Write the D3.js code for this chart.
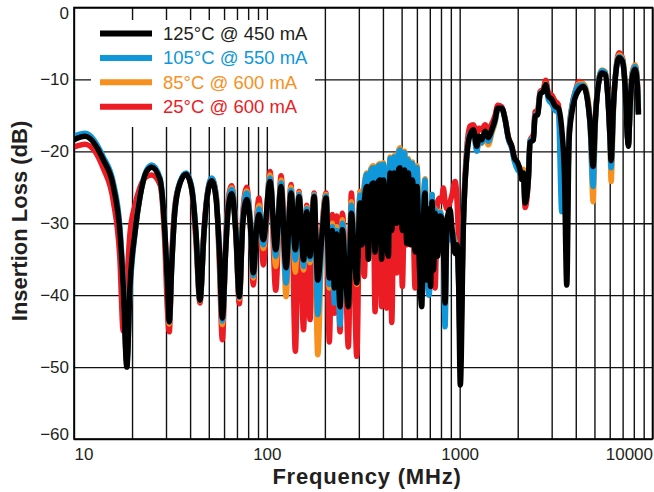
<!DOCTYPE html>
<html>
<head>
<meta charset="utf-8">
<script src="https://cdn.jsdelivr.net/npm/d3@7"></script>
<style>
  body { margin: 0; background: #fff; }
  text { font-family: "Liberation Sans", Arial, Helvetica, sans-serif; }
</style>
</head>
<body>
<script>
// frequency points (MHz), shared by the four curves
const freqs = [10, 11.4, 14.2, 16.0, 17.3, 18.0, 18.8, 19.5, 20.7, 22.0, 23.8, 25.3, 27.9, 29.6, 30.5, 31.2, 32.1, 33.4, 35.5, 38.1,
  40.8, 42.9, 45.0, 47.2, 49.1, 51.8, 54.6, 56.7, 58.8, 61.2, 63.2, 65.8, 69.1, 72.0, 74.9, 78.6, 82.2, 85.1, 88.7, 91.1, 95.9,
  103.9, 111.2, 118.5, 125.8, 133.5, 140.6, 146.9, 155.0, 161.0, 167.5, 175.8, 183.7, 192.7, 202.8, 210.9, 218.6, 223.9, 230.4,
  239.7, 246.4, 255.4, 264.7, 274.4, 283.4, 292.7, 304.4,
  311.7, 320.4, 329.7, 336.1, 345.0, 356.8, 364.1, 375.2, 386.6, 393.6, 403.1, 418.8, 426.9, 435.5, 444.5, 456.8, 471.8, 482.0,
  490.8, 504.5, 517.9, 531.7, 542.0, 556.4, 569.9, 587.1, 601.3, 615.8, 636.0, 648.2, 661.5, 675.1, 693.9, 706.4, 719.2, 732.2,
  745.4, 768.0, 791.3, 805.6, 823.1, 840.0, 860.3, 891.7, 913.3, 946.3, 969.4, 987.0, 1008,
  1045, 1089, 1132, 1178, 1227, 1261, 1302, 1354, 1409, 1467, 1526, 1576, 1653, 1720, 1789, 1863, 1922, 2001, 2057, 2099, 2140,
  2184, 2228, 2271, 2318, 2411, 2461, 2541, 2612, 2717, 2796, 2884, 3004, 3125, 3250, 3385, 3492, 3593, 3693, 3814, 3967, 4164,
  4383, 4564, 4748, 4921, 5040, 5204, 5459, 5678, 5865, 6028, 6100, 6270, 6453, 6712, 6982, 7210, 7411, 7499, 7653, 7866, 8124,
  8350, 8451];

// insertion loss (dB), one list per test condition
const loss125 = [-18.4, -17.9, -21.2, -24.9, -31.3, -38.8, -50.0, -38.8, -31.3, -26.3, -22.8, -22.2, -23.9, -31.3, -38.3, -43.7, -36.0, -28.1, -24.4, -23.2,
  -25.3, -31.4, -40.7, -31.3, -26.3, -24.1, -26.7, -33.7, -43.2, -33.7, -27.7, -25.9, -31.4, -40.2, -30.4, -26.7, -30.4, -36.9, -30.4, -28.8, -32.3,
  -24.2, -33.7, -24.9, -36.2, -25.8, -33.7, -26.3, -35.1, -28.4, -34.6, -26.3, -37.9, -32.0, -26.5, -37.6, -31.0, -39.0, -31.5,
  -41.6, -30.9, -37.0, -41.6, -28.6, -34.0, -38.3, -27.2,
  -33.0, -27.0, -24.9, -35.0, -25.0, -24.4, -34.0, -24.5, -24.0, -35.0, -24.0, -33.0, -34.6, -23.0, -31.0, -23.0, -30.0, -22.5,
  -22.3, -31.0, -22.6, -32.8, -23.0, -33.0, -24.0, -34.0, -24.9, -34.6, -41.6, -30.0, -25.8, -37.9, -28.0, -38.8, -27.0, -36.5,
  -28.6, -34.6, -29.0, -29.3, -33.0, -41.1, -29.5, -28.1, -30.9, -34.2, -33.0, -38.0, -52.5,
  -30.4, -20.7, -17.7, -17.0, -19.3, -17.9, -18.4, -17.2, -18.1, -17.0, -15.6, -14.0, -14.0, -15.6, -18.1, -19.3, -20.9, -21.6, -22.6, -23.9, -23.0,
  -27.2, -26.3, -23.9, -18.8, -18.4, -15.1, -14.9, -12.1, -11.6, -10.7, -12.3, -12.8, -13.7, -14.0, -17.0, -23.0, -38.6, -18.4, -14.7, -12.6, -11.4,
  -11.0, -12.3, -16.1, -22.1, -16.1, -11.4, -9.1, -9.3, -12.3, -18.4, -21.3, -13.7, -9.1, -7.0, -7.5, -11.0, -17.9, -19.3, -13.7, -9.6, -8.6,
  -11.0, -14.9];

const loss105 = [-17.9, -17.5, -20.8, -24.4, -30.5, -38.0, -49.5, -39.5, -31.5, -26.2, -22.6, -21.9, -23.7, -31.0, -38.0, -43.7, -36.0, -28.0, -24.2, -23.0,
  -25.0, -31.2, -40.7, -31.5, -26.1, -23.7, -26.3, -33.5, -43.6, -33.6, -27.3, -25.3, -31.0, -40.3, -30.0, -25.8, -30.0, -37.3, -30.0, -28.0, -33.0,
  -23.7, -34.6, -24.4, -38.3, -25.4, -35.1, -26.0, -36.0, -28.0, -35.0, -26.1, -42.7, -32.5, -26.2, -38.5, -30.5, -41.1, -31.0,
  -44.1, -30.0, -37.5, -41.0, -27.5, -34.0, -38.0, -26.1,
  -30.0, -25.0, -23.2, -31.0, -22.8, -22.3, -29.5, -22.2, -21.9, -32.0, -21.8, -30.0, -33.0, -21.0, -27.0, -20.8, -26.0, -20.2,
  -19.8, -28.0, -20.2, -31.0, -21.2, -29.0, -21.7, -30.0, -22.3, -33.0, -38.0, -28.0, -24.0, -37.0, -40.0, -36.0, -26.0, -35.0,
  -28.1, -33.0, -28.5, -29.0, -32.0, -44.4, -30.0, -32.3, -31.0, -33.0, -33.5, -38.0, -47.0,
  -30.0, -20.5, -17.5, -17.2, -20.0, -18.2, -18.8, -17.6, -18.6, -17.2, -15.8, -14.1, -14.0, -15.6, -18.3, -19.6, -21.4, -22.6, -23.0, -23.8, -23.0,
  -27.0, -26.0, -23.5, -18.5, -18.2, -15.0, -14.7, -12.0, -11.6, -10.9, -12.8, -13.4, -14.3, -14.6, -28.4, -27.0, -30.0, -17.8, -14.0, -11.8, -10.8,
  -10.8, -12.2, -16.5, -24.9, -16.5, -11.2, -8.8, -9.0, -12.4, -18.8, -22.3, -14.0, -9.0, -6.8, -7.3, -11.0, -17.8, -19.0, -13.5, -9.2, -8.2,
  -10.8, -14.8];

const loss85 = [-18.1, -17.7, -21.0, -24.7, -31.0, -38.5, -49.0, -39.0, -31.3, -26.3, -22.8, -22.1, -23.9, -31.3, -38.5, -44.0, -36.0, -28.1, -24.3, -23.1,
  -25.1, -31.4, -40.8, -31.5, -26.2, -23.8, -26.4, -33.8, -44.1, -33.5, -27.2, -25.1, -31.0, -40.5, -29.8, -25.5, -30.0, -37.6, -29.5, -27.5, -33.5,
  -23.3, -36.0, -24.0, -40.2, -25.0, -36.8, -25.8, -36.5, -27.8, -35.5, -26.0, -48.3, -32.5, -26.0, -39.0, -30.0, -40.0, -30.5,
  -43.0, -29.5, -37.5, -41.0, -27.0, -34.0, -38.5, -25.6,
  -30.0, -24.6, -23.0, -31.0, -22.5, -22.0, -29.0, -22.0, -21.7, -32.0, -21.6, -30.0, -33.0, -20.8, -27.0, -20.6, -26.0, -19.9,
  -19.5, -28.0, -20.0, -31.0, -21.0, -29.0, -21.5, -30.0, -22.0, -33.0, -38.0, -28.0, -23.8, -37.0, -36.0, -36.0, -26.0, -35.0,
  -28.0, -33.0, -28.3, -29.0, -32.0, -42.0, -30.0, -30.0, -31.0, -32.5, -33.5, -38.0, -47.0,
  -30.0, -20.5, -17.5, -17.2, -19.8, -18.0, -18.9, -17.8, -19.1, -17.5, -16.0, -14.2, -14.1, -15.5, -18.2, -19.5, -21.2, -22.2, -22.8, -23.5, -22.5,
  -26.5, -25.8, -23.5, -18.6, -18.0, -15.0, -14.6, -12.0, -11.5, -10.6, -12.4, -13.0, -13.9, -14.2, -20.0, -24.0, -30.0, -18.0, -14.2, -12.0, -10.6,
  -10.6, -11.8, -15.8, -27.0, -16.8, -11.2, -8.7, -8.9, -12.2, -18.8, -24.2, -14.5, -9.0, -6.6, -7.1, -10.8, -17.6, -19.0, -13.4, -9.0, -8.0,
  -10.5, -14.5];

const loss25 = [-19.4, -19.0, -22.4, -27.0, -35.0, -45.0, -38.0, -31.5, -27.5, -25.0, -23.5, -23.3, -24.6, -33.0, -42.0, -45.1, -35.0, -27.5, -24.3, -23.1,
  -25.3, -32.5, -41.1, -31.0, -26.0, -23.8, -26.0, -35.5, -46.2, -32.5, -26.5, -24.8, -31.5, -41.2, -29.0, -25.0, -30.5, -38.6, -29.0, -26.5, -35.8,
  -22.8, -39.3, -23.4, -37.0, -24.6, -47.8, -25.6, -44.8, -27.5, -43.4, -25.8, -40.0, -31.0, -25.8, -46.5, -28.8, -42.5, -29.0,
  -45.1, -28.6, -36.0, -47.2, -25.8, -36.0, -48.5, -25.6,
  -31.0, -37.4, -25.5, -33.5, -25.0, -27.0, -42.3, -25.0, -30.0, -41.6, -27.0, -41.8, -34.6, -28.0, -43.8, -25.0, -36.9, -24.0,
  -23.5, -38.8, -27.0, -33.0, -27.0, -32.0, -27.5, -39.0, -28.0, -34.0, -36.0, -30.0, -29.0, -36.0, -30.0, -34.0, -27.5, -34.0,
  -39.0, -27.0, -26.5, -27.0, -25.1, -27.0, -28.0, -27.0, -26.0, -24.2, -27.0, -33.0, -45.0,
  -29.0, -19.5, -16.5, -16.3, -17.5, -16.8, -17.0, -16.3, -17.0, -16.2, -15.0, -13.6, -13.8, -15.4, -18.0, -19.3, -20.9, -21.8, -22.6, -23.9, -23.0,
  -27.8, -26.8, -23.9, -18.5, -17.6, -14.5, -14.2, -11.7, -11.3, -10.1, -11.8, -12.2, -13.0, -13.5, -22.0, -21.0, -28.0, -17.5, -13.8, -11.8, -10.3,
  -10.7, -12.0, -16.0, -21.5, -15.8, -11.0, -8.8, -9.0, -12.0, -18.0, -20.8, -13.5, -8.8, -6.3, -7.0, -10.8, -17.8, -19.0, -13.5, -9.0, -8.0,
  -10.5, -14.5];

const seriesLabels = ["125°C @ 450 mA", "105°C @ 550 mA", "85°C @ 600 mA", "25°C @ 600 mA"];
const yTicks = [0, -10, -20, -30, -40, -50, -60];
const xTickLabels = [10, 100, 1000, 10000];

// canvas
const w = 654, h = 492;
const pLeft = 74, pRight = 652.5, pTop = 7.5, pBottom = 439;

const colors = ["#000000", "#0f97d9", "#f7901e", "#ec1c24"];
const series = [loss125, loss105, loss85, loss25].map((v, i) => ({ label: seriesLabels[i], values: v, color: colors[i] }));

const x = d3.scaleLog().domain([10, 10000]).range([pLeft, pRight]);
const y = d3.scaleLinear().domain([0, -60]).range([pTop, pBottom]);

const svg = d3.select("body").append("svg")
  .attr("width", w)
  .attr("height", h);

// grid lines
svg.append("g")
  .attr("transform", "translate(0," + pBottom + ")")
  .call(d3.axisBottom(x).tickValues(x.ticks()).tickSize(-(pBottom - pTop)).tickFormat(""))
  .call(g => g.select(".domain").remove())
  .selectAll("line").attr("stroke", "#111").attr("stroke-width", 1.4);

svg.append("g")
  .attr("transform", "translate(" + pLeft + ",0)")
  .call(d3.axisLeft(y).tickValues(yTicks).tickSize(-(pRight - pLeft)).tickFormat(""))
  .call(g => g.select(".domain").remove())
  .selectAll("line").attr("stroke", "#111").attr("stroke-width", 1.4);

// legend box hides the grid behind it
svg.append("rect")
  .attr("x", 91).attr("y", 20)
  .attr("width", 224).attr("height", 107)
  .attr("fill", "#fff");

const legend = svg.append("g").selectAll("g")
  .data(series)
  .join("g")
  .attr("transform", (d, i) => "translate(100," + (33.5 + i * 24.4) + ")");

legend.append("line")
  .attr("x1", 0).attr("x2", 52)
  .attr("stroke", d => d.color)
  .attr("stroke-width", 6);

legend.append("text")
  .attr("x", 63)
  .attr("dy", "0.35em")
  .attr("fill", d => d.color === "#000000" ? "#231f20" : d.color)
  .style("font-size", "18.5px")
  .text(d => d.label);

// curves, red first so black ends on top
svg.append("clipPath").attr("id", "plotclip")
  .append("rect")
  .attr("x", pLeft).attr("y", pTop)
  .attr("width", pRight - pLeft).attr("height", pBottom - pTop);

const line = d3.line()
  .x((d, i) => x(freqs[i]))
  .y(d => y(d))
  .curve(d3.curveMonotoneX);

svg.append("g")
  .attr("clip-path", "url(#plotclip)")
  .selectAll("path")
  .data(series.slice().reverse())
  .join("path")
  .attr("d", d => line(d.values))
  .attr("fill", "none")
  .attr("stroke", d => d.color)
  .attr("stroke-width", 5.5);

// frame
svg.append("rect")
  .attr("x", pLeft).attr("y", pTop)
  .attr("width", pRight - pLeft).attr("height", pBottom - pTop)
  .attr("fill", "none")
  .attr("stroke", "#000")
  .attr("stroke-width", 1.6);

// tick labels
const yAxis = svg.append("g")
  .attr("transform", "translate(" + pLeft + ",0)")
  .call(d3.axisLeft(y).tickValues(yTicks).tickSize(0).tickPadding(5));
yAxis.select(".domain").remove();
yAxis.selectAll("text")
  .attr("fill", "#231f20")
  .style("font-size", "17px")
  .attr("y", d => d === 0 ? 6 : (d === -60 ? -5 : 0));

const xAxis = svg.append("g")
  .attr("transform", "translate(0," + pBottom + ")")
  .call(d3.axisBottom(x).tickValues(xTickLabels).tickSize(0).tickPadding(9).tickFormat(d3.format("d")));
xAxis.select(".domain").remove();
xAxis.selectAll("text")
  .attr("fill", "#231f20")
  .style("font-size", "17px")
  .attr("text-anchor", d => d === 10 ? "start" : (d === 10000 ? "end" : "middle"));

// axis titles
svg.append("text")
  .attr("x", 367).attr("y", 484)
  .attr("text-anchor", "middle")
  .attr("fill", "#231f20")
  .style("font-size", "22px")
  .style("font-weight", "bold")
  .style("letter-spacing", "0.8px")
  .text("Frequency (MHz)");

svg.append("text")
  .attr("transform", "translate(27,221) rotate(-90)")
  .attr("text-anchor", "middle")
  .attr("fill", "#231f20")
  .style("font-size", "22px")
  .style("font-weight", "bold")
  .text("Insertion Loss (dB)");
</script>
</body>
</html>
